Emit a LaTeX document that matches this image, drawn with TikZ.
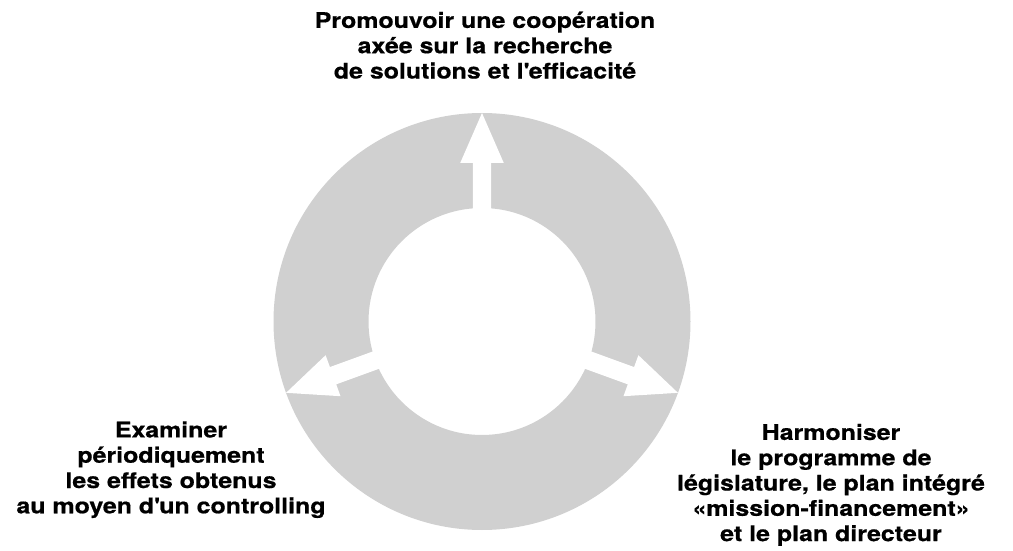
\documentclass[tikz,border=0pt]{standalone}
\usepackage{fontspec}
\newfontfamily\capfont{texgyreheros-bold.otf}[FakeStretch=1.16,FakeBold=0.6]
\definecolor{ringgray}{RGB}{208,208,208}
\begin{document}
\begin{tikzpicture}[x=1pt,y=1pt,
  label/.style={align=center,inner sep=0pt,anchor=north,
    font=\capfont\fontsize{21.5}{25.3}\selectfont},
  outarrow/.style={fill=white}]
\useasboundingbox (0,0) rectangle (1013,550);
\coordinate (c) at (482,228.5);
% grey ring
\fill[ringgray,even odd rule] (c) circle[radius=208.5] (c) circle[radius=113.5];
% white arrows pointing outwards through the ring
\foreach \ang in {90,-20,200}{
  \fill[outarrow,shift={(c)},rotate=\ang]
    (0,-9.2) -- (158.5,-9.2) -- (158.5,-21.8) -- (208.5,0)
    -- (158.5,21.8) -- (158.5,9.2) -- (0,9.2) -- cycle;
}
% captions (the strut fixes the height of the first line)
\node[label] (top) at (485,540) {\strut Promouvoir une coopération\\axée sur la recherche\\de solutions et l\textquotesingle efficacité};
\node[label] (left) at (171,130.5) {\strut Examiner\\périodiquement\\les effets obtenus\\au moyen d\textquotesingle un controlling};
\node[label] (right) at (831,128) {\strut Harmoniser\\le programme de\\législature, le plan intégré\\«mission-financement»\\et le plan directeur};
\end{tikzpicture}
\end{document}
